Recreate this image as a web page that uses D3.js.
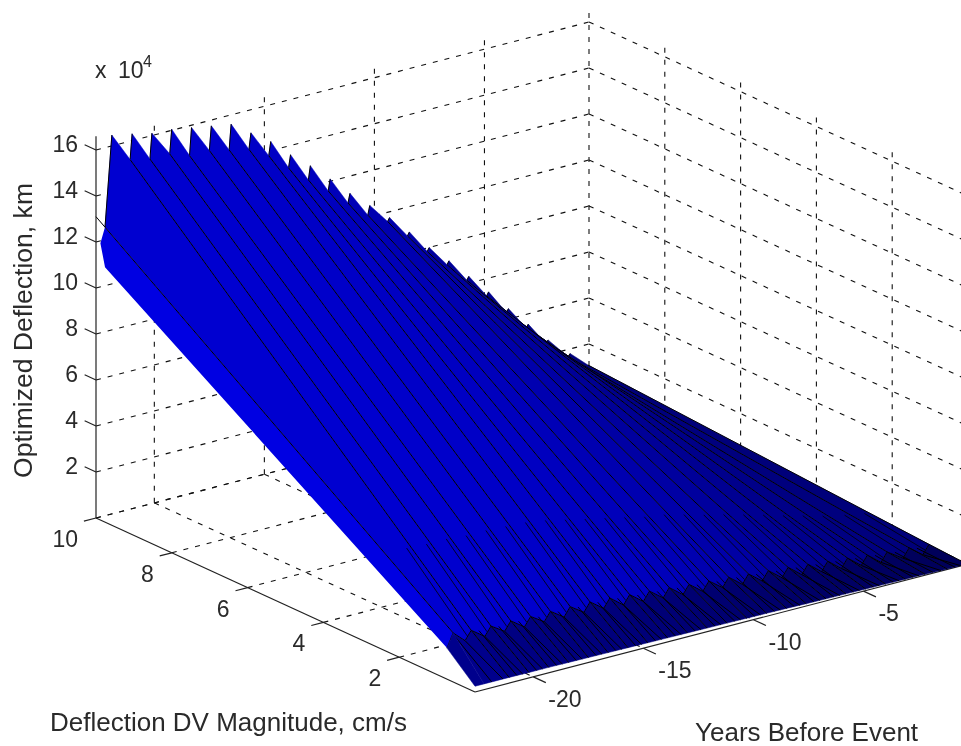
<!DOCTYPE html>
<html>
<head>
<meta charset="utf-8">
<script src="https://unpkg.com/d3@7/dist/d3.min.js"></script>
<style>
  html, body { margin: 0; background: #fff; }
  text { font-family: "Liberation Sans", Arial, sans-serif; fill: #2a2a2a; }
</style>
</head>
<body>
<div id="wrapper"></div>
<script>
// values (deflection in units of 10^4 km)
const xTicks = [-20, -15, -10, -5]
const yTicks = [2, 4, 6, 8, 10]
const zTicks = [2, 4, 6, 8, 10, 12, 14, 16]

// one entry per black ridge line, nearest strip first
const lineYears = [-22.24, -21.1, -20.2, -19.3, -18.4, -17.5, -16.6, -15.7, -14.8, -13.9, -13.0, -12.1, -11.2, -10.3, -9.4, -8.5, -7.6, -6.7, -5.8, -4.9, -4.0, -3.1, -2.2, -1.2, -0.3]
const valleyDefl = [12.55, 15.2, 15.0, 15.0, 14.7, 14.7, 14.5, 14.3, 13.8, 13.05, 12.3, 11.6, 10.85, 10.1, 9.6, 8.75, 7.85, 7.05, 6.15, 5.25, 4.3, 3.4, 2.5, 1.68, 1.1]
const peakDefl = [16.47, 16.3, 16.1, 16.05, 15.9, 15.75, 15.6, 15.0, 14.4, 13.6, 12.9, 12.1, 11.25, 10.5, 9.75, 8.9, 8.0, 7.2, 6.3, 5.4, 4.45, 3.55, 2.64, 1.8, 1.2]
const kneeDefl = [1.63, 1.54, 1.5, 1.5, 1.47, 1.47, 1.45, 1.43, 1.38, 1.3, 1.23, 1.16, 1.08, 1.0, 0.94, 0.86, 0.78, 0.7, 0.61, 0.52, 0.43, 0.34, 0.25, 0.18, 0.11]
const footDefl = [0.25, 0.25, 0.24, 0.24, 0.23, 0.22, 0.21, 0.2, 0.19, 0.18, 0.17, 0.16, 0.15, 0.14, 0.13, 0.12, 0.1, 0.09, 0.08, 0.07, 0.06, 0.05, 0.04, 0.02, 0.01]
const stripBlue = [208, 208, 206, 206, 204, 202, 200, 198, 196, 194, 190, 186, 182, 176, 170, 164, 158, 152, 146, 140, 136, 130, 126, 122, 118]
const kneeBlue = [140, 132, 130, 128, 125, 125, 124, 122, 120, 118, 116, 114, 112, 110, 108, 106, 104, 102, 100, 98, 96, 94, 92, 90, 88]

// the bright strip in front of the first ridge line
const frontBlue = 226
const firstTip = { year: -22.65, defl: 13.1 }
const leadEdge = [
  { year: -22.24, y: 10, defl: 12.55 },
  { year: -22.45, y: 10, defl: 11.9 },
  { year: -22.24, y: 10, defl: 10.8 },
  { year: -22.2, y: 1, defl: 1.04 },
]
const firstKneeYear = -21.92

const xLim = [-22.65, -0.25]
const yLim = [0, 10]
const zLim = [0, 16.6]

const dimensions = { width: 961, height: 746 }

const leftCorner = [96, 518]
const xEdge = [493, -128]
const yEdge = [379, 174]
const zPerUnit = -23

const xScale = d3.scaleLinear().domain(xLim).range([0, 1])
const yScale = d3.scaleLinear().domain([yLim[1], yLim[0]]).range([0, 1])
const zScale = d3.scaleLinear().domain([0, 1]).range([0, zPerUnit])

const project = (x, y, z) => [
  leftCorner[0] + xScale(x) * xEdge[0] + yScale(y) * yEdge[0],
  leftCorner[1] + xScale(x) * xEdge[1] + yScale(y) * yEdge[1] + zScale(z),
]

const wrapper = d3.select("#wrapper")
  .append("svg")
    .attr("width", dimensions.width)
    .attr("height", dimensions.height)
    .style("display", "block")
    .style("filter", "blur(0.35px)")

const line = d3.line()
const seg = (a, b) => line([project(...a), project(...b)])

// grid
const grid = wrapper.append("g")
  .attr("fill", "none")
  .attr("stroke", "#111")
  .attr("stroke-width", 1.1)
  .attr("stroke-dasharray", "5 7")

const gridSegs = []
xTicks.forEach(x => {
  gridSegs.push([[x, 10, 0], [x, 10, zLim[1]]])
  gridSegs.push([[x, 10, 0], [x, 0, 0]])
})
yTicks.forEach(y => {
  gridSegs.push([[xLim[1], y, 0], [xLim[1], y, zLim[1]]])
  gridSegs.push([[xLim[0], y, 0], [xLim[1], y, 0]])
})
;[0].concat(zTicks).forEach(z => {
  gridSegs.push([[xLim[0], 10, z], [xLim[1], 10, z]])
  gridSegs.push([[xLim[1], 10, z], [xLim[1], 0, z]])
})
grid.selectAll("path").data(gridSegs).enter().append("path")
  .attr("d", d => seg(d[0], d[1]))

// axes
const axes = wrapper.append("g").attr("fill", "none").attr("stroke", "#222").attr("stroke-width", 1.2)
axes.append("path").attr("d", seg([xLim[0], 10, 0], [xLim[0], 10, zLim[1]]))
axes.append("path").attr("d", seg([xLim[0], 10, 0], [xLim[0], 0, 0]))
axes.append("path").attr("d", seg([xLim[0], 0, 0], [xLim[1], 0, 0]))

zTicks.forEach(z => axes.append("path").attr("d", seg([xLim[0], 10, z], [xLim[0], 10.3, z])))
yTicks.forEach(y => axes.append("path").attr("d", seg([xLim[0], y, 0], [xLim[0] - 0.55, y, 0])))
xTicks.forEach(x => axes.append("path").attr("d", seg([x, 0, 0], [x, -0.33, 0])))

// surface, far strips first
const blue = b => d3.rgb(0, 0, b).formatHex()
const surface = wrapper.append("g").attr("stroke-linejoin", "round")
const last = lineYears.length - 1

d3.range(last - 1, -1, -1).forEach(k => {
  const x0 = lineYears[k], x1 = lineYears[k + 1]
  const kx0 = k === 0 ? firstKneeYear : x0
  const lowX = x1 - 0.28
  const lowZ = kneeDefl[k + 1] - 0.38
  const xp = k === 0 ? -21.93 : x0 + 0.09
  const top = [
    project(x0, 10, valleyDefl[k]),
    project(xp, 10, peakDefl[k]),
    project(x1, 10, valleyDefl[k + 1]),
    project(x1, 1, kneeDefl[k + 1]),
    project(lowX, 1, lowZ),
    project(kx0, 1, kneeDefl[k]),
  ]
  const bottom = [
    project(kx0, 1, kneeDefl[k]),
    project(lowX, 1, lowZ),
    project(x1, 1, kneeDefl[k + 1]),
    project(x1, 0, footDefl[k + 1]),
    project(x0, 0, footDefl[k]),
  ]
  surface.append("path").attr("d", line(bottom) + "Z").attr("fill", blue(kneeBlue[k])).attr("stroke", blue(kneeBlue[k])).attr("stroke-width", 0.5)
  surface.append("path").attr("d", line(top) + "Z").attr("fill", blue(stripBlue[k])).attr("stroke", blue(stripBlue[k])).attr("stroke-width", 0.5)

  const edges = surface.append("g").attr("fill", "none").attr("stroke", "#000").attr("stroke-width", 1)
  edges.append("path").attr("d", line([project(x1, 10, valleyDefl[k + 1]), project(x1, 1, kneeDefl[k + 1]), project(x1, 0, footDefl[k + 1])]))
  edges.append("path").attr("d", line([project(x0, 10, valleyDefl[k]), project(xp, 10, peakDefl[k])]))
  edges.append("path").attr("d", line([project(kx0, 1, kneeDefl[k]), project(lowX, 1, lowZ), project(x1, 1, kneeDefl[k + 1])]))
  edges.append("path").attr("d", line([project(lowX, 1, lowZ), project(lowX, 0, footDefl[k + 1])]))
  edges.append("path").attr("d", line([project(x0 + 0.35, 1, kneeDefl[k] - 0.1), project(x0 + 0.35, 0, footDefl[k])]))
  // doubled edge just above the knee
  edges.append("path").attr("stroke-width", 0.8)
    .attr("d", line([project(lowX + 0.1, 2.6, valleyDefl[k + 1] * 0.26), project(lowX + 0.1, 1, kneeDefl[k + 1] - 0.2)]))
})

// bright front strip
const frontPts = [
  project(firstTip.year, 10, firstTip.defl),
  ...leadEdge.map(d => project(d.year, d.y, d.defl)),
  project(firstKneeYear, 1, kneeDefl[0]),
]
surface.append("path").attr("d", line(frontPts) + "Z").attr("fill", blue(frontBlue))
surface.append("path")
  .attr("d", line([project(firstTip.year, 10, firstTip.defl), project(firstKneeYear, 1, kneeDefl[0]), project(-22.2, 1, 1.04)]))
  .attr("fill", "none").attr("stroke", "#000")
// dark facet below the bright strip
surface.append("path")
  .attr("d", line([project(-22.2, 1, 1.04), project(firstKneeYear, 1, kneeDefl[0]), project(lineYears[0], 0, footDefl[0]), project(xLim[0], 0, footDefl[0])]) + "Z")
  .attr("fill", blue(kneeBlue[0])).attr("stroke", blue(kneeBlue[0])).attr("stroke-width", 0.5)

// tick labels
const labels = wrapper.append("g").attr("font-size", 23)
zTicks.forEach(z => {
  labels.append("text").text(z)
    .attr("x", 78).attr("y", project(xLim[0], 10, z)[1] + 2)
    .attr("text-anchor", "end")
})
yTicks.forEach(y => {
  const p = project(xLim[0], y, 0)
  labels.append("text").text(y)
    .attr("x", p[0] - 18).attr("y", p[1] + 29)
    .attr("text-anchor", "end")
})
xTicks.forEach(x => {
  const p = project(x, 0, 0)
  labels.append("text").text(x)
    .attr("x", p[0] + 15).attr("y", p[1] + 30)
})

const power = labels.append("text").attr("y", 78)
power.append("tspan").text("x").attr("x", 95)
power.append("tspan").text("10").attr("x", 118)
power.append("tspan").text("4").attr("x", 143).attr("dy", -11).attr("font-size", 16)

// titles
const titles = wrapper.append("g").attr("font-size", 26)
titles.append("text").text("Deflection DV Magnitude, cm/s")
  .attr("x", 50).attr("y", 731)
titles.append("text").text("Years Before Event")
  .attr("x", 695).attr("y", 741)
titles.append("text").text("Optimized Deflection, km")
  .attr("transform", "translate(32,478) rotate(-90)")
  .attr("textLength", 295).attr("lengthAdjust", "spacingAndGlyphs")
</script>
</body>
</html>
